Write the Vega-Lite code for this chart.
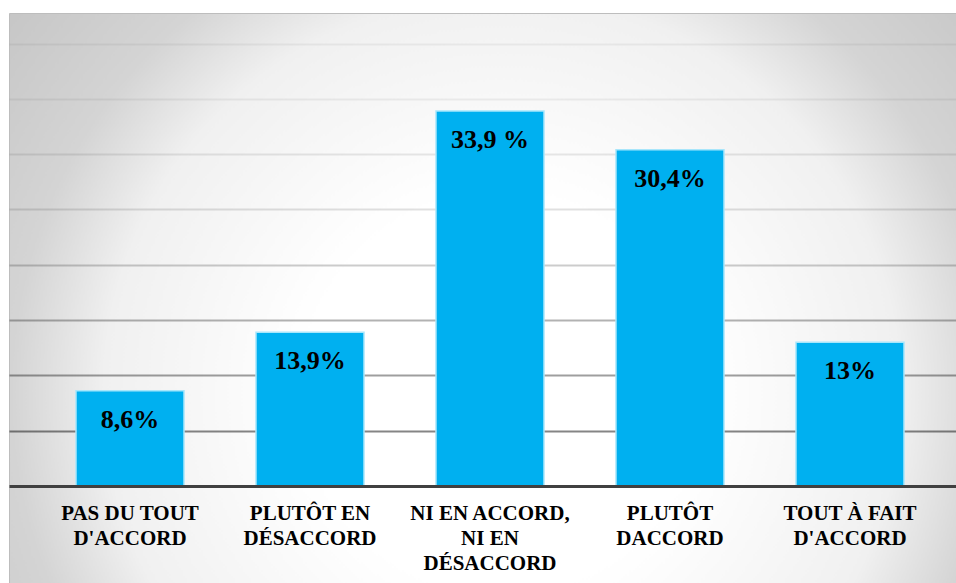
{
  "$schema": "https://vega.github.io/schema/vega-lite/v6.json",
  "width": 947,
  "height": 570,
  "autosize": {"type": "none"},
  "padding": {"left": 9, "top": 13, "right": 0, "bottom": 0},
  "background": "#ffffff",
  "config": {
    "view": {
      "fill": {
        "gradient": "radial",
        "x1": 0.52, "y1": 0.6, "r1": 0,
        "x2": 0.52, "y2": 0.6, "r2": 0.7,
        "stops": [
          {"offset": 0, "color": "#ffffff"},
          {"offset": 0.3, "color": "#ffffff"},
          {"offset": 0.6, "color": "#f0f0f0"},
          {"offset": 0.74, "color": "#d4d4d4"},
          {"offset": 1, "color": "#c2c2c2"}
        ]
      },
      "stroke": "#bdbdbd",
      "strokeWidth": 1
    }
  },
  "data": {
    "values": [
      {"cat": "PAS DU TOUT|D'ACCORD", "value": 8.6, "label": "8,6%"},
      {"cat": "PLUTÔT EN|DÉSACCORD", "value": 13.9, "label": "13,9%"},
      {"cat": "NI EN ACCORD,|NI EN|DÉSACCORD", "value": 33.9, "label": "33,9 %"},
      {"cat": "PLUTÔT|DACCORD", "value": 30.4, "label": "30,4%"},
      {"cat": "TOUT À FAIT|D'ACCORD", "value": 13, "label": "13%"}
    ]
  },
  "encoding": {
    "x": {
      "field": "cat",
      "type": "nominal",
      "sort": null,
      "scale": {"paddingInner": 0.4, "paddingOuter": 0.3306, "align": 0.563},
      "axis": {
        "title": null,
        "orient": "bottom",
        "offset": -97,
        "labelAngle": 0,
        "labelExpr": "split(datum.label, '|')",
        "labelFont": "'Liberation Serif', 'Times New Roman', 'DejaVu Serif', serif",
        "labelFontWeight": "bold",
        "labelFontSize": 21,
        "labelLineHeight": 25,
        "labelColor": "#000000",
        "labelPadding": 16,
        "labelBaseline": "top",
        "labelLimit": 0,
        "ticks": false,
        "tickSize": 0,
        "domain": true,
        "domainColor": "#404040",
        "domainWidth": 3,
        "grid": false,
        "zindex": 1
      }
    }
  },
  "layer": [
    {
      "mark": {"type": "bar", "color": "#00B0F0", "stroke": "#a8e6fb", "strokeWidth": 1.5},
      "encoding": {
        "y": {
          "field": "value",
          "type": "quantitative",
          "scale": {"domain": [-8.77, 42.76], "nice": false, "zero": false},
          "axis": {
            "values": [5, 10, 15, 20, 25, 30, 35, 40],
            "grid": true,
            "domain": false,
            "ticks": false,
            "labels": false,
            "title": null,
            "gridColor": "#000000",
            "gridWidth": 2,
            "gridOpacity": {
              "condition": [
                {"test": "datum.value >= 40", "value": 0.05},
                {"test": "datum.value >= 35", "value": 0.06},
                {"test": "datum.value >= 30", "value": 0.09},
                {"test": "datum.value >= 25", "value": 0.12},
                {"test": "datum.value >= 20", "value": 0.2},
                {"test": "datum.value >= 15", "value": 0.3},
                {"test": "datum.value >= 10", "value": 0.38}
              ],
              "value": 0.48
            }
          }
        },
        "y2": {"datum": 0}
      }
    },
    {
      "mark": {
        "type": "text",
        "font": "'Liberation Serif', 'Times New Roman', 'DejaVu Serif', serif",
        "fontWeight": "bold",
        "fontSize": 26,
        "baseline": "alphabetic",
        "align": "center",
        "dy": 37,
        "color": "#000000"
      },
      "encoding": {
        "y": {"field": "value", "type": "quantitative"},
        "text": {"field": "label"}
      }
    }
  ]
}
